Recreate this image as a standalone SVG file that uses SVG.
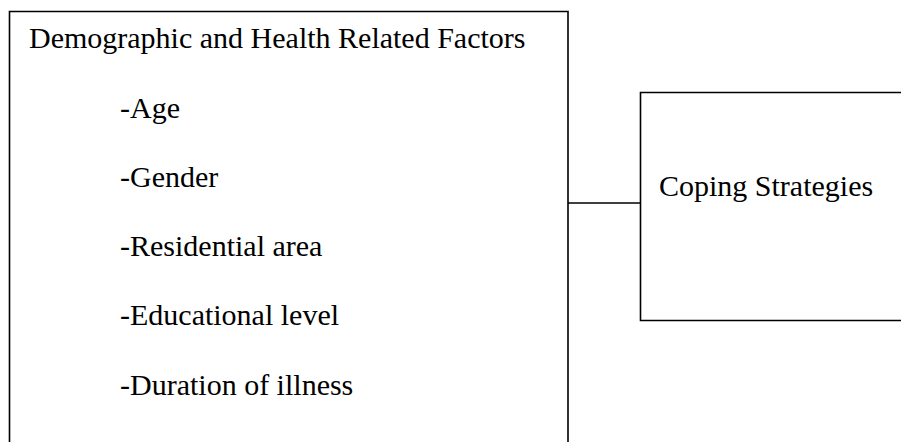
<svg xmlns="http://www.w3.org/2000/svg" width="901" height="442" viewBox="0 0 901 442">
<style>
.box{fill:none;stroke:#000;stroke-width:1.6}
.t{font-family:"Liberation Serif","Times New Roman",serif;font-size:30px;fill:#000}
</style>
<rect width="901" height="442" fill="#fff"/>
<g id="factors">
<path class="box" d="M9.5,445 V11.5 H568 V445"/>
<text class="t" x="29" y="48">Demographic and Health Related Factors</text>
<text class="t" x="120" y="118">-Age</text>
<text class="t" x="120" y="187">-Gender</text>
<text class="t" x="120" y="256">-Residential area</text>
<text class="t" x="120" y="325">-Educational level</text>
<text class="t" x="120" y="395">-Duration of illness</text>
</g>
<g id="coping">
<path class="box" d="M905,92.5 H640.5 V320.5 H905"/>
<text class="t" x="659" y="196">Coping Strategies</text>
</g>
<g id="connectors">
<line class="box" x1="568" y1="203" x2="640.5" y2="203"/>
</g>
</svg>
